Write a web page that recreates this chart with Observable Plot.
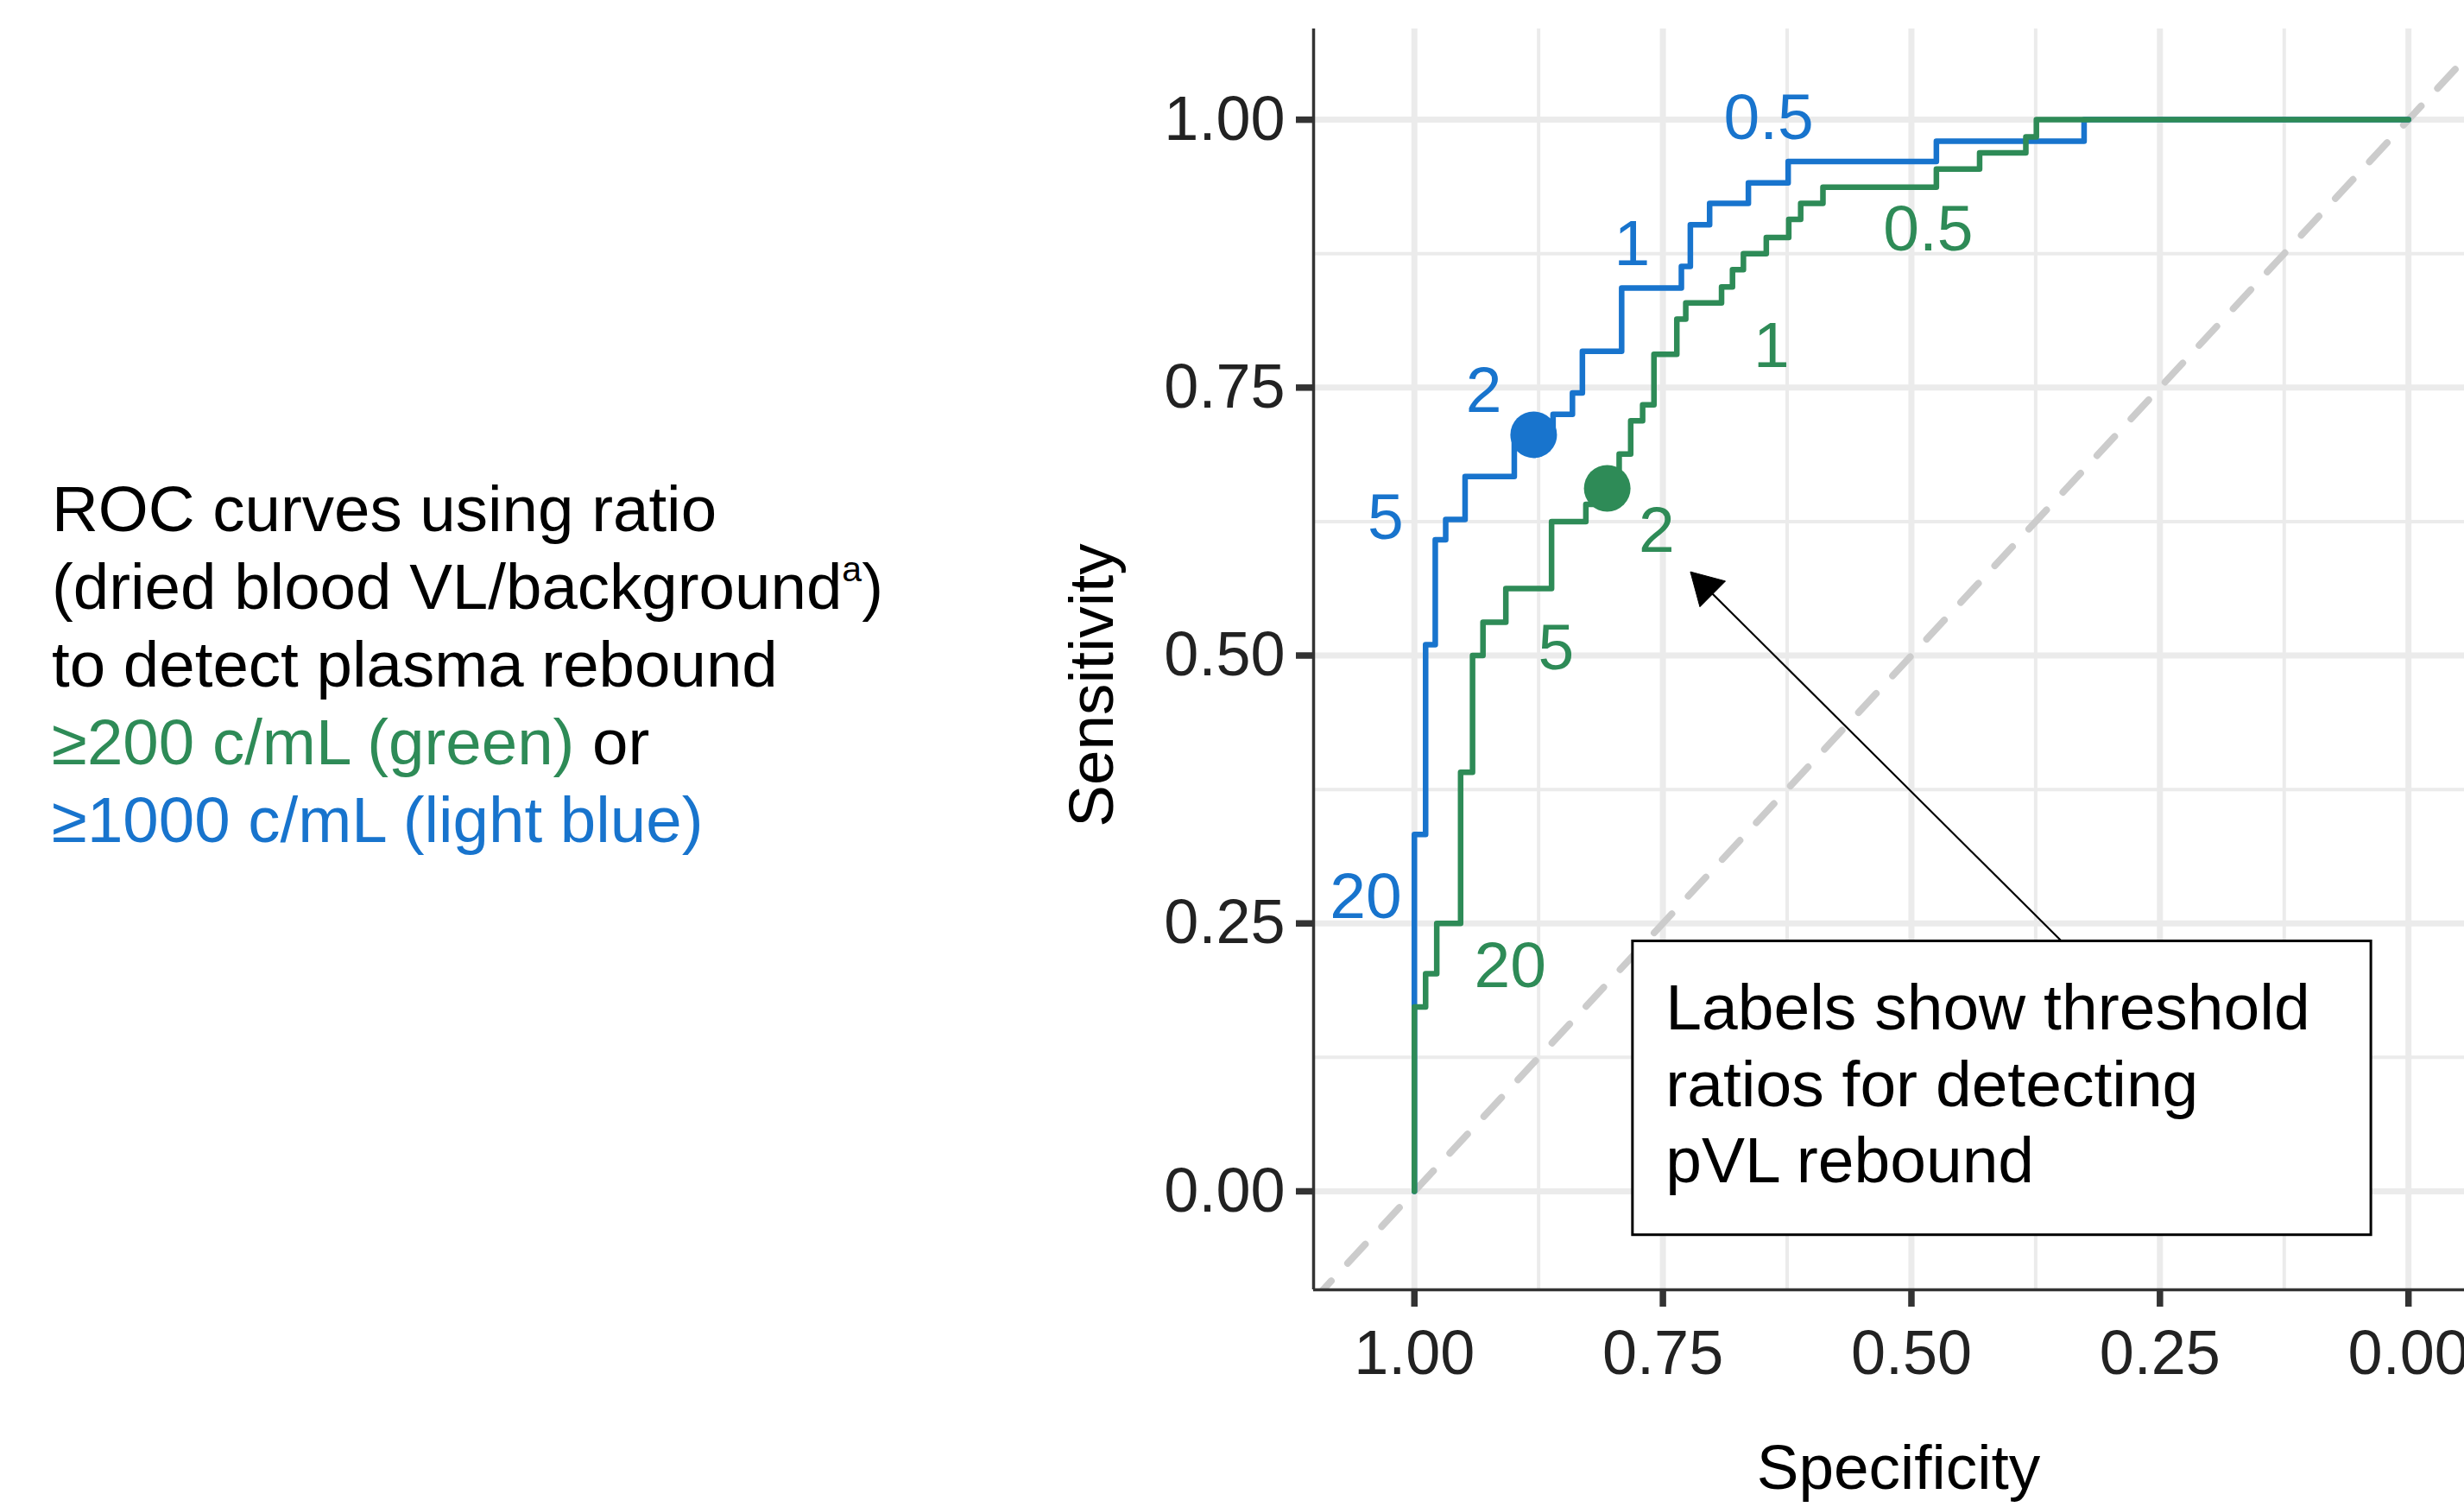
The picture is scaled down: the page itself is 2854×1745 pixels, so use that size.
<!DOCTYPE html>
<html>
<head>
<meta charset="utf-8">
<script src="https://cdn.jsdelivr.net/npm/d3@7"></script>
<script src="https://cdn.jsdelivr.net/npm/@observablehq/plot@0.6"></script>
<style>
  html, body { margin: 0; padding: 0; background: #fff; overflow: hidden; }
  #wrap { position: relative; width: 2854px; height: 1745px; }
  #side {
    position: absolute; left: 60px; top: 545px;
    font-family: "Liberation Sans", Arial, sans-serif;
    font-size: 74.5px; line-height: 90px; color: #000; white-space: nowrap;
  }
  #side sup { font-size: 0.55em; line-height: 0; vertical-align: 0.78em; }
  .g { color: #2E8B57; }
  .b { color: #1874CD; }
  #chart { position: absolute; left: 0; top: 0; }
</style>
</head>
<body>
<div id="wrap">
  <div id="chart"></div>
  <div id="side">
    <div>ROC curves using ratio</div>
    <div>(dried blood VL/background<sup>a</sup>)</div>
    <div>to detect plasma rebound</div>
    <div><span class="g">≥200 c/mL (green)</span> or</div>
    <div><span class="b">≥1000 c/mL (light blue)</span></div>
  </div>
</div>
<script>
// ---- Data: ROC points (specificity, sensitivity) ----
const blueSpec = [1.000, 0.9887, 0.979, 0.9685, 0.949, 0.8995, 0.8605, 0.841, 0.831, 0.7915, 0.7314, 0.7224, 0.703, 0.664, 0.624, 0.4749, 0.3263, 0.000];
const blueSens = [0.000, 0.333, 0.510, 0.608, 0.627, 0.667, 0.706, 0.725, 0.745, 0.784, 0.843, 0.863, 0.902, 0.922, 0.941, 0.961, 0.980, 1.000];

const greenSpec = [1.000, 0.9887, 0.9775, 0.9535, 0.9415, 0.931, 0.908, 0.862, 0.8275, 0.806, 0.794, 0.7824, 0.7704, 0.759, 0.736, 0.727, 0.691, 0.680, 0.669, 0.646, 0.6234, 0.6114, 0.589, 0.4749, 0.4314, 0.3849, 0.3743, 0.000];
const greenSens = [0.000, 0.172, 0.203, 0.250, 0.391, 0.500, 0.531, 0.5625, 0.625, 0.641, 0.656, 0.688, 0.719, 0.734, 0.781, 0.814, 0.829, 0.844, 0.860, 0.875, 0.890, 0.907, 0.922, 0.937, 0.954, 0.969, 0.984, 1.000];

// best-threshold points
const bestSeries = ["blue", "green"];
const bestSpec = [0.880, 0.806];
const bestSens = [0.706, 0.656];

// threshold labels
const blueLabels = ["0.5", "1", "2", "5", "20"];
const blueLabelSpec = [0.6436, 0.781, 0.9302, 1.0289, 1.0488];
const blueLabelSens = [1.001, 0.884, 0.7463, 0.6282, 0.2744];
const greenLabels = ["0.5", "1", "2", "5", "20"];
const greenLabelSpec = [0.4832, 0.6407, 0.7562, 0.8575, 0.9036];
const greenLabelSens = [0.8973, 0.7887, 0.6159, 0.5065, 0.2099];

// axes
const xDomain = [1.1014, -0.0563];
const yDomain = [-0.0919, 1.0847];
const majorTicks = [0, 0.25, 0.5, 0.75, 1];
const minorTicks = [0.125, 0.375, 0.625, 0.875];

// annotation
const noteText = "Labels show threshold\nratios for detecting\npVL rebound";
const noteBox = {x1: 0.7802, x2: 0.0374, y1: -0.0409, y2: 0.2333};
const noteAt = {x: 0.7472, y: 0.2012};
const arrowFrom = [0.3488, 0.2333];
const arrowTo = [0.7219, 0.5777];

const BLUE = "#1874CD", GREEN = "#2E8B57";

const blue = blueSpec.map((s, i) => ({spec: s, sens: blueSens[i]}));
const green = greenSpec.map((s, i) => ({spec: s, sens: greenSens[i]}));
const best = bestSeries.map((k, i) => ({k, spec: bestSpec[i], sens: bestSens[i]}));
const bLab = blueLabels.map((t, i) => ({t, spec: blueLabelSpec[i], sens: blueLabelSens[i]}));
const gLab = greenLabels.map((t, i) => ({t, spec: greenLabelSpec[i], sens: greenLabelSens[i]}));
const diag = xDomain.map(s => ({spec: s, sens: 1 - s}));

function arrowHead(index, scales) {
  const x0 = scales.x(arrowFrom[0]), y0 = scales.y(arrowFrom[1]);
  const x1 = scales.x(arrowTo[0]), y1 = scales.y(arrowTo[1]);
  const a = Math.atan2(y1 - y0, x1 - x0);
  const L = 42, phi = Math.PI / 6;
  const p1 = [x1 - L * Math.cos(a - phi), y1 - L * Math.sin(a - phi)];
  const p2 = [x1 - L * Math.cos(a + phi), y1 - L * Math.sin(a + phi)];
  return d3.create("svg:path")
    .attr("d", `M${x1},${y1}L${p1[0]},${p1[1]}L${p2[0]},${p2[1]}Z`)
    .attr("fill", "black").attr("stroke", "black").attr("stroke-width", 1)
    .node();
}

const fmt = d3.format(".2f");

const chart = Plot.plot({
  width: 2854,
  height: 1745,
  marginLeft: 1521,
  marginRight: 0,
  marginTop: 33,
  marginBottom: 252,
  style: {fontFamily: "'Liberation Sans', Arial, sans-serif", fontSize: "72px", background: "white", color: "#222"},
  x: {domain: xDomain},
  y: {domain: yDomain},
  marks: [
    Plot.gridX(minorTicks, {stroke: "#EBEBEB", strokeOpacity: 1, strokeWidth: 4}),
    Plot.gridY(minorTicks, {stroke: "#EBEBEB", strokeOpacity: 1, strokeWidth: 4}),
    Plot.gridX(majorTicks, {stroke: "#EBEBEB", strokeOpacity: 1, strokeWidth: 7}),
    Plot.gridY(majorTicks, {stroke: "#EBEBEB", strokeOpacity: 1, strokeWidth: 7}),
    Plot.line(diag, {x: "spec", y: "sens", stroke: "#CCCCCC", strokeWidth: 8, strokeDasharray: "30,28", clip: true}),
    Plot.line(blue, {x: "spec", y: "sens", curve: "step-before", stroke: BLUE, strokeWidth: 6.5, strokeLinejoin: "round"}),
    Plot.line(green, {x: "spec", y: "sens", curve: "step-before", stroke: GREEN, strokeWidth: 6.5, strokeLinejoin: "round"}),
    Plot.dot(best, {x: "spec", y: "sens", r: 27, fill: d => d.k === "blue" ? BLUE : GREEN}),
    Plot.text(bLab, {x: "spec", y: "sens", text: "t", fill: BLUE, fontSize: 75, lineAnchor: "middle"}),
    Plot.text(gLab, {x: "spec", y: "sens", text: "t", fill: GREEN, fontSize: 75, lineAnchor: "middle"}),
    Plot.rect([noteBox], {x1: "x1", x2: "x2", y1: "y1", y2: "y2", fill: "white", stroke: "black", strokeWidth: 3}),
    Plot.text([noteAt], {x: "x", y: "y", text: () => noteText, textAnchor: "start", lineAnchor: "top", lineHeight: 1.177, fill: "black", fontSize: 75}),
    Plot.link([{x1: arrowFrom[0], y1: arrowFrom[1], x2: arrowTo[0], y2: arrowTo[1]}], {x1: "x1", y1: "y1", x2: "x2", y2: "y2", stroke: "black", strokeWidth: 2.2}),
    arrowHead,
    Plot.ruleX([xDomain[0]], {stroke: "#333", strokeWidth: 3.5}),
    Plot.ruleY([yDomain[0]], {stroke: "#333", strokeWidth: 3.5}),
    Plot.axisY(majorTicks, {tickFormat: fmt, tickSize: 20, tickPadding: 13, stroke: "#333", strokeWidth: 7.5, fill: "#222", fontSize: 72, label: null}),
    Plot.axisX(majorTicks, {tickFormat: fmt, tickSize: 20, tickPadding: 26, stroke: "#333", strokeWidth: 7.5, fill: "#222", fontSize: 72, label: null}),
    Plot.text(["Sensitivity"], {frameAnchor: "left", text: d => d, rotate: -90, dx: -233, dy: 30, textAnchor: "middle", lineAnchor: "bottom", fill: "#000", fontSize: 73}),
    Plot.text(["Specificity"], {frameAnchor: "bottom", text: d => d, dx: 11, dy: 230, textAnchor: "middle", lineAnchor: "bottom", fill: "#000", fontSize: 73})
  ]
});
document.getElementById("chart").appendChild(chart);
</script>
</body>
</html>
